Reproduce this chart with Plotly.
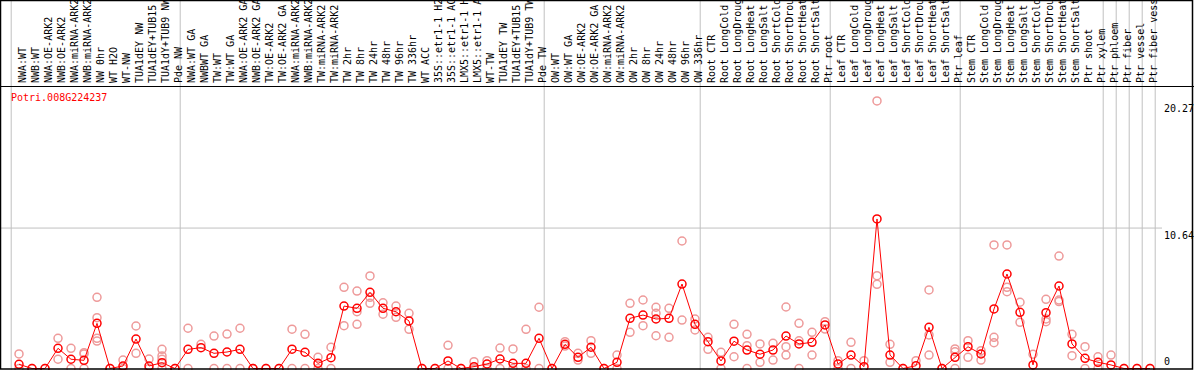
import plotly.graph_objects as go

gene_id = "Potri.008G224237"

samples = [
    "NWA:WT", "NWB:WT", "NWA:OE-ARK2", "NWB:OE-ARK2", "NWA:miRNA-ARK2", "NWB:miRNA-ARK2",
    "NW 0hr", "WT H2O", "WT-NW", "TUA1dEY NW", "TUA1dEY+TUB15 NW", "TUA1dY+TUB9 NW", "Pde NW",
    "NWA:WT GA", "NWBWT GA", "TW:WT", "TW:WT GA", "NWA:OE-ARK2 GA", "NWB:OE-ARK2 GA",
    "TW:OE-ARK2", "TW:OE-ARK2 GA", "NWA:miRNA-ARK2 GA", "NWB:miRNA-ARK2 GA", "TW:miRNA-ARK2",
    "TW:miRNA-ARK2 GA", "TW 2hr", "TW 8hr", "TW 24hr", "TW 48hr", "TW 96hr", "TW 336hr",
    "WT ACC", "35S::etr1-1 H2O", "35S::etr1-1 ACC", "LMX5::etr1-1 H2O", "LMX5::etr1-1 ACC",
    "WT-TW", "TUA1dEY TW", "TUA1dEY+TUB15 TW", "TUA1dY+TUB9 TW", "Pde TW",
    "OW:WT", "OW:WT GA", "OW:OE-ARK2", "OW:OE-ARK2 GA", "OW:miRNA-ARK2", "OW:miRNA-ARK2 GA",
    "OW 2hr", "OW 8hr", "OW 24hr", "OW 48hr", "OW 96hr", "OW 336hr",
    "Root CTR", "Root LongCold", "Root LongDrought", "Root LongHeat", "Root LongSalt",
    "Root ShortCold", "Root ShortDrought", "Root ShortHeat", "Root ShortSalt", "Ptr root",
    "Leaf CTR", "Leaf LongCold", "Leaf LongDrought", "Leaf LongHeat", "Leaf LongSalt",
    "Leaf ShortCold", "Leaf ShortDrought", "Leaf ShortHeat", "Leaf ShortSalt", "Ptr leaf",
    "Stem CTR", "Stem LongCold", "Stem LongDrought", "Stem LongHeat", "Stem LongSalt",
    "Stem ShortCold", "Stem ShortDrought", "Stem ShortHeat", "Stem ShortSalt", "Ptr shoot",
    "Ptr xylem", "Ptr phloem", "Ptr fiber", "Ptr vessel", "Ptr fiber vessel",
]

mean_values = [
    0.32, 0, 0, 1.53, 0.70, 0.62, 3.42, 0, 0.19, 2.23, 0.19, 0.44, 0,
    1.45, 1.58, 1.15, 1.25, 1.45, 0, 0, 0, 1.46, 1.23, 0.39, 0.82, 4.73, 4.56,
    5.77, 4.56, 4.30, 3.60, 0, 0, 0.57, 0, 0.14, 0.34, 0.72, 0.39, 0.39, 2.29,
    0, 1.83, 0.85, 1.61, 0, 0.47, 3.80, 4.05, 3.75, 3.80, 6.40, 3.35,
    2.03, 0.57, 2.07, 1.40, 1.08, 1.40, 2.46, 1.86, 1.98, 3.30,
    0.34, 1.02, 0.14, 11.33, 1.02, 0, 0.21, 3.12, 0, 0.85,
    1.65, 1.10, 4.51, 7.16, 4.26, 0.27, 4.23, 6.25, 1.86, 0.77,
    0.47, 0.27, 0, 0, 0,
]

replicate_values = [
    [1.10, 0], [0], [0], [2.29, 0.70], [1.53, 0], [1.10, 1.20, 0], [5.39, 3.85, 2.29, 2.08],
    [0], [0.64, 0], [3.22, 1.15], [0.72, 0], [1.45, 0.95, 0.70, 0], [0],
    [3.05, 0], [1.83], [2.46, 0], [2.61, 0], [3.05, 0], [0], [0], [0], [2.98, 0], [2.59, 0],
    [0.85, 0], [1.61, 0], [6.15, 3.24], [5.87, 3.35, 4.30], [7.01, 4.94, 5.39], [4.98, 4.11],
    [4.73, 3.88], [4.18, 2.97], [0], [0], [1.76, 0], [0], [0.52, 0], [0.59, 0], [1.55, 0],
    [1.48, 0], [2.97, 0], [4.64, 0],
    [0], [2.03, 1.70], [1.15, 0.64], [2.11, 1.15], [0], [1.02, 0], [4.94, 2.74], [5.19, 3.24],
    [4.64, 2.48, 4.18], [4.56, 2.36], [9.66, 3.67], [3.75, 2.92],
    [2.36, 1.45], [1.23, 0], [3.35, 0.89], [2.59, 1.73, 0], [1.86, 0.47], [1.91, 0.64],
    [4.66, 1.65, 1.02], [3.42, 2.10, 0], [2.74, 1.02], [3.55, 2.99],
    [0.59, 0], [1.98, 0], [0.59], [20.27, 7.03, 6.38], [1.83, 0.47], [0], [0.59],
    [5.95, 2.54, 1.02], [0], [1.48, 1.27, 0],
    [2.11, 0.85], [1.35, 0.64], [9.36, 2.36, 1.95], [9.36, 6.15, 5.82], [5.02, 3.50], [1.08],
    [5.24, 3.75, 3.55], [8.52, 5.19, 5.07], [2.59, 0.97], [1.65, 0],
    [0.89, 0], [1.02], [0], [0], [0],
]

# index of the last sample in each group (group separators drawn after them)
group_ends = [-1, 12, 40, 52, 62, 72, 83, 84, 85, 86, 87]
y_tick_values = [20.27, 10.64, 0]
y_tick_labels = ["20.27", "10.64", "0"]

W, H = 1194, 370
FONT = "DejaVu Sans Mono"
x_idx = list(range(len(samples)))

rep_x, rep_y = [], []
for i, reps in enumerate(replicate_values):
    for v in reps:
        rep_x.append(i)
        rep_y.append(v)

fig = go.Figure()
fig.add_trace(go.Scatter(
    x=rep_x, y=rep_y, mode="markers",
    marker=dict(symbol="circle-open", size=8, color="#ee9a9a", line=dict(width=1.5, color="#ee9a9a")),
    hoverinfo="skip", showlegend=False,
))
fig.add_trace(go.Scatter(
    x=x_idx, y=mean_values, mode="lines+markers",
    line=dict(color="#ff0000", width=1),
    marker=dict(symbol="circle-open", size=8, color="#ff0000", line=dict(width=1.5, color="#ff0000")),
    showlegend=False,
))

px_per_idx = 13.0
x0_px = 19.0
zero_px = 368.5
px_per_unit = 13.2
top_px = 87

shapes = []
for g in group_ends:
    shapes.append(dict(type="line", xref="x", yref="paper", x0=g + 0.4, x1=g + 0.4, y0=0, y1=1,
                       line=dict(color="#c0c0c0", width=1), layer="below"))
shapes.append(dict(type="line", xref="paper", yref="y", x0=0, x1=1162 / W,
                   y0=y_tick_values[1], y1=y_tick_values[1], line=dict(color="#c0c0c0", width=1), layer="below"))
shapes.append(dict(type="rect", xref="paper", yref="paper", x0=0.5 / W, x1=1192.5 / W, y0=1 / H, y1=1 - 0.5 / H,
                   line=dict(color="black", width=1.5)))

annotations = [dict(text=gene_id, xref="paper", yref="paper", x=9 / W, y=1 - 90 / H,
                    xanchor="left", yanchor="top", showarrow=False,
                    font=dict(family=FONT, size=10, color="#ff0000"))]
for v, lab in zip(y_tick_values, y_tick_labels):
    annotations.append(dict(text=lab, xref="paper", yref="y", x=1162 / W, y=v,
                            xanchor="left", yanchor="bottom" if v == 0 else "top", showarrow=False,
                            font=dict(family=FONT, size=10, color="black")))

fig.update_layout(
    width=W, height=H, margin=dict(l=0, r=0, t=0, b=0, autoexpand=False),
    paper_bgcolor="white", plot_bgcolor="white",
    xaxis=dict(domain=[0, 1], range=[-x0_px / px_per_idx, (W - x0_px) / px_per_idx],
               side="top", tickmode="array", tickvals=x_idx, ticktext=samples, tickangle=-90,
               tickfont=dict(family=FONT, size=10, color="black"), ticks="", automargin=False,
               ticklabelshift=4, ticklabelstandoff=1,
               showgrid=False, zeroline=False, showline=True, linecolor="black", linewidth=1),
    yaxis=dict(domain=[0, (H - top_px) / H], automargin=False,
               range=[(zero_px - H) / px_per_unit, (zero_px - top_px) / px_per_unit],
               showgrid=False, zeroline=False, showticklabels=False, showline=False),
    shapes=shapes, annotations=annotations,
)

fig.write_html("out.html", config={"displayModeBar": False},
               post_script="document.body.style.margin='0';document.body.style.overflow='hidden';")
